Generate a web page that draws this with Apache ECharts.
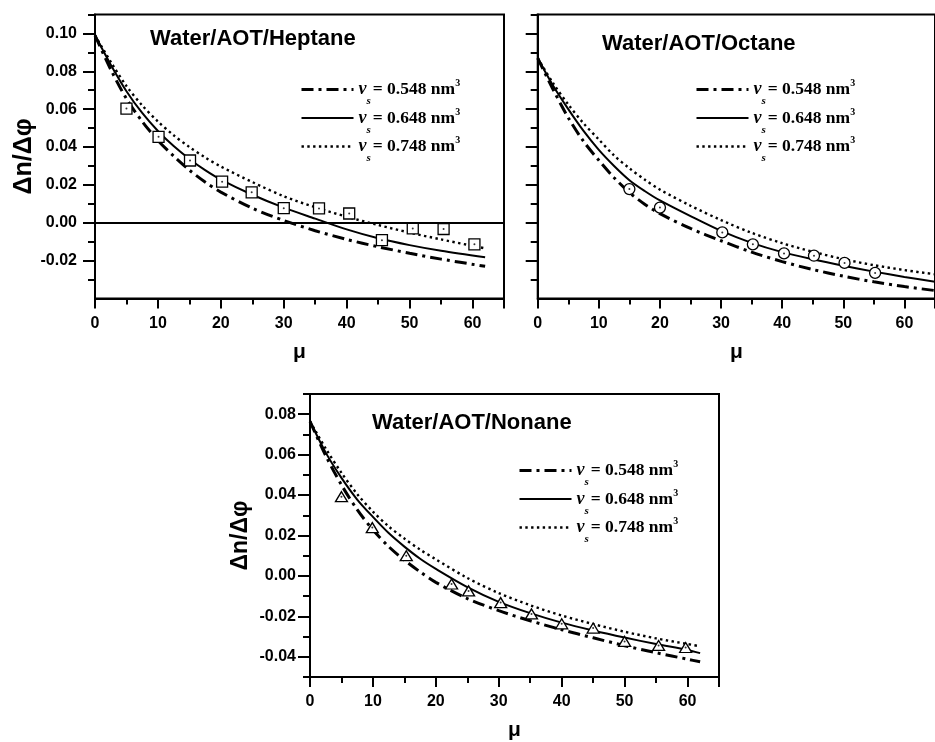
<!DOCTYPE html>
<html><head><meta charset="utf-8">
<script src="https://cdn.jsdelivr.net/npm/echarts@6/dist/echarts.min.js"></script>
<style>html,body{margin:0;padding:0;background:#fff}#c{width:935px;height:742px}</style>
</head><body><div id="c"></div>
<script>
// ---------- data ----------
const panelTitles = ['Water/AOT/Heptane', 'Water/AOT/Octane', 'Water/AOT/Nonane'];
const legendNames = ['vs0548', 'vs0648', 'vs0748'];
const legendValues = ['0.548', '0.648', '0.748'];
const xMajorTicks = [0, 10, 20, 30, 40, 50, 60];
const xMinorTicks = [5, 15, 25, 35, 45, 55];

// Heptane
const heptExpMu = [5, 10.1, 15.1, 20.2, 24.9, 30, 35.6, 40.4, 45.6, 50.5, 55.4, 60.3];
const heptExp = [0.0603, 0.0454, 0.0329, 0.0217, 0.0161, 0.0077, 0.0076, 0.0049, -0.0092, -0.0030, -0.0033, -0.0114];
const heptCurveMu = [0, 2.5, 5, 7.5, 10, 12.5, 15, 17.5, 20, 25, 30, 35, 40, 45, 50, 55, 62];
const hept548 = [0.099, 0.0810, 0.0655, 0.0535, 0.0435, 0.0352, 0.0278, 0.0215, 0.0162, 0.0077, 0.0012, -0.0042, -0.0088, -0.0127, -0.0161, -0.0192, -0.0230];
const hept648 = [0.099, 0.0835, 0.0695, 0.0580, 0.0485, 0.0405, 0.0337, 0.0278, 0.0228, 0.0148, 0.0080, 0.0022, -0.0035, -0.0082, -0.0118, -0.0148, -0.0182];
const hept748 = [0.099, 0.0850, 0.0722, 0.0620, 0.0535, 0.0462, 0.0400, 0.0345, 0.0297, 0.0215, 0.0140, 0.0082, 0.0032, -0.0012, -0.0052, -0.0088, -0.0135];

// Octane
const octExpMu = [15, 20, 30.2, 35.2, 40.3, 45.2, 50.2, 55.2];
const octExp = [0.0178, 0.0080, -0.0051, -0.0114, -0.0162, -0.0174, -0.0212, -0.0265];
const octCurveMu = [0, 2.5, 5, 7.5, 10, 12.5, 15, 17.5, 20, 25, 30, 35, 40, 45, 50, 55, 60, 65];
const oct548 = [0.087, 0.0705, 0.0555, 0.0430, 0.0330, 0.0238, 0.0160, 0.0098, 0.0048, -0.0030, -0.0095, -0.0155, -0.0205, -0.0247, -0.0282, -0.0312, -0.0337, -0.0358];
const oct648 = [0.087, 0.0725, 0.0600, 0.0485, 0.0385, 0.0300, 0.0225, 0.0168, 0.0118, 0.0035, -0.0043, -0.0106, -0.0155, -0.0193, -0.0227, -0.0258, -0.0286, -0.0311];
const oct748 = [0.087, 0.0738, 0.0625, 0.0525, 0.0440, 0.0355, 0.0288, 0.0228, 0.0175, 0.0090, 0.0014, -0.0053, -0.0108, -0.0153, -0.0192, -0.0224, -0.0250, -0.0272];

// Nonane
const nonExpMu = [5, 9.9, 15.3, 22.5, 25.2, 30.3, 35.2, 40, 45, 50, 55.4, 59.7];
const nonExp = [0.0392, 0.0239, 0.0100, -0.0040, -0.0074, -0.0132, -0.0188, -0.0237, -0.0258, -0.0324, -0.0344, -0.0354];
const nonCurveMu = [0, 2.5, 5, 7.5, 10, 12.5, 15, 17.5, 20, 25, 30, 35, 40, 45, 50, 55, 60, 62];
const non548 = [0.0765, 0.0595, 0.0450, 0.0328, 0.0228, 0.0145, 0.0078, 0.0020, -0.0032, -0.0112, -0.0172, -0.0222, -0.0266, -0.0306, -0.0345, -0.0380, -0.0412, -0.0425];
const non648 = [0.0765, 0.0610, 0.0485, 0.0378, 0.0292, 0.0212, 0.0145, 0.0085, 0.0035, -0.0055, -0.0128, -0.0184, -0.0231, -0.0270, -0.0305, -0.0337, -0.0366, -0.0382];
const non748 = [0.0765, 0.0630, 0.0510, 0.0405, 0.0318, 0.0245, 0.0185, 0.0130, 0.0082, -0.0010, -0.0085, -0.0145, -0.0196, -0.0238, -0.0276, -0.0309, -0.0337, -0.0348];

// y tick sets
const yLabelsTop = [-0.02, 0, 0.02, 0.04, 0.06, 0.08, 0.10];
const yMinorTop = [-0.03, -0.01, 0.01, 0.03, 0.05, 0.07, 0.09, 0.11];
const yLabelsBottom = [-0.04, -0.02, 0, 0.02, 0.04, 0.06, 0.08];
const yMinorBottom = [-0.05, -0.03, -0.01, 0.01, 0.03, 0.05, 0.07, 0.09];

// ---------- chart ----------
const pairs = (xs, ys) => xs.map((x, i) => [x, ys[i]]);
const BLACK = '#000';
const tickFont = { color: BLACK, fontFamily: 'Liberation Sans', fontWeight: 'bold', fontSize: 16 };
const nameFont = { color: BLACK, fontFamily: 'Liberation Sans', fontWeight: 'bold', fontSize: 21 };

const grids = [
  { left: 95, top: 14.5, width: 409, height: 284 },
  { left: 537.7, top: 14.5, width: 405.6, height: 284 },
  { left: 310, top: 394, width: 409, height: 283.7 }
].map(g => Object.assign(g, { show: true, borderColor: BLACK, borderWidth: 2, backgroundColor: 'transparent', containLabel: false }));

const xAxes = [], yAxes = [];
const yCfg = [
  { min: -0.04, max: 0.11, labels: yLabelsTop, minor: yMinorTop, showLabel: true, margin: 18, name: 'Δn/Δφ', gap: 56, fs: 25 },
  { min: -0.04, max: 0.11, labels: yLabelsTop, minor: yMinorTop, showLabel: false, margin: 18, name: '', gap: 56, fs: 25 },
  { min: -0.05, max: 0.09, labels: yLabelsBottom, minor: yMinorBottom, showLabel: true, margin: 14, name: 'Δn/Δφ', gap: 58, fs: 23 }
];
for (let g = 0; g < 3; g++) {
  xAxes.push({
    type: 'value', gridIndex: g, min: 0, max: 65, position: 'bottom',
    axisLine: { show: true, onZero: false, lineStyle: { color: BLACK, width: 2 } },
    axisTick: { show: true, length: 10, lineStyle: { color: BLACK, width: 2 }, customValues: xMajorTicks.concat([65]) },
    axisLabel: Object.assign({ show: true, customValues: xMajorTicks, margin: 17, formatter: v => String(v) }, tickFont),
    splitLine: { show: false },
    name: 'μ', nameLocation: 'middle', nameGap: 43, nameTextStyle: nameFont
  });
  xAxes.push({
    type: 'value', gridIndex: g, min: 0, max: 65, position: 'bottom',
    axisLine: { show: false, onZero: false },
    axisTick: { show: true, length: 6, lineStyle: { color: BLACK, width: 2 }, customValues: xMinorTicks },
    axisLabel: { show: false }, splitLine: { show: false }
  });
  const c = yCfg[g];
  yAxes.push({
    type: 'value', gridIndex: g, min: c.min, max: c.max, position: 'left',
    axisLine: { show: true, onZero: false, lineStyle: { color: BLACK, width: 2 } },
    axisTick: { show: true, length: 12, lineStyle: { color: BLACK, width: 2 }, customValues: c.labels },
    axisLabel: Object.assign({ show: c.showLabel, customValues: c.labels, margin: c.margin, formatter: v => v.toFixed(2) }, tickFont),
    splitLine: { show: false },
    name: c.name, nameLocation: 'middle', nameGap: c.gap, nameRotate: 90, nameTextStyle: Object.assign({}, nameFont, { fontSize: c.fs })
  });
  yAxes.push({
    type: 'value', gridIndex: g, min: c.min, max: c.max, position: 'left',
    axisLine: { show: false, onZero: false },
    axisTick: { show: true, length: 7, lineStyle: { color: BLACK, width: 2 }, customValues: c.minor },
    axisLabel: { show: false }, splitLine: { show: false }
  });
}

const lineStyles = [
  { color: BLACK, width: 3, type: [12, 5, 3, 5] },
  { color: BLACK, width: 2, type: 'solid' },
  { color: BLACK, width: 2.4, type: [2.4, 3.4] }
];
const panels = [
  { mu: heptCurveMu, curves: [hept548, hept648, hept748], exp: [heptExpMu, heptExp], symbol: 'rect', size: 11 },
  { mu: octCurveMu, curves: [oct548, oct648, oct748], exp: [octExpMu, octExp], symbol: 'circle', size: 11 },
  { mu: nonCurveMu, curves: [non548, non648, non748], exp: [nonExpMu, nonExp], symbol: 'triangle', size: [12, 10] }
];
const series = [];
panels.forEach((p, g) => {
  p.curves.forEach((cv, k) => {
    const s = {
      type: 'line', name: legendNames[k], xAxisIndex: 2 * g, yAxisIndex: 2 * g,
      data: pairs(p.mu, cv), showSymbol: false, symbol: 'none', smooth: 0.3,
      lineStyle: lineStyles[k], itemStyle: { color: BLACK }, z: 2, silent: true, clip: true
    };
    if (g === 0 && k === 1) {
      s.markLine = { silent: true, symbol: 'none', label: { show: false }, animation: false,
        lineStyle: { type: 'solid', color: BLACK, width: 2 }, data: [{ yAxis: 0 }] };
    }
    series.push(s);
  });
  series.push({
    type: 'scatter', xAxisIndex: 2 * g, yAxisIndex: 2 * g, data: pairs(p.exp[0], p.exp[1]),
    symbol: p.symbol, symbolSize: p.size, z: 3, silent: true,
    itemStyle: { color: '#fff', borderColor: BLACK, borderWidth: 1.3, opacity: 1 }
  });
  series.push({
    type: 'scatter', xAxisIndex: 2 * g, yAxisIndex: 2 * g, data: pairs(p.exp[0], p.exp[1]),
    symbol: 'circle', symbolSize: 2, z: 4, silent: true, itemStyle: { color: BLACK }
  });
});

const serif = 'Liberation Serif';
const rich = {
  v: { fontFamily: serif, fontStyle: 'italic', fontWeight: 'bold', fontSize: 18, lineHeight: 20, color: BLACK },
  s: { fontFamily: serif, fontStyle: 'italic', fontWeight: 'bold', fontSize: 11, lineHeight: 10, padding: [24, 2, 0, 0], color: BLACK },
  t: { fontFamily: serif, fontWeight: 'bold', fontSize: 17.5, lineHeight: 20, color: BLACK },
  p: { fontFamily: serif, fontWeight: 'bold', fontSize: 10, lineHeight: 10, padding: [0, 0, 12, 0], color: BLACK }
};
const legendPos = [[300, 72], [695, 72], [518, 453]];
const legends = legendPos.map(([l, t]) => ({
  left: l, top: t, orient: 'vertical', itemWidth: 52, itemHeight: 14, itemGap: -6.5,
  selectedMode: false, padding: 0, data: legendNames,
  itemStyle: { color: 'rgba(0,0,0,0)', borderWidth: 0, opacity: 0 },
  lineStyle: { width: 'inherit' },
  formatter: name => '{v|ν}{s|s}{t|= ' + legendValues[legendNames.indexOf(name)] + ' nm}{p|3}',
  textStyle: { rich: rich, color: BLACK }
}));

const titlePos = [[150, 28], [602, 33], [372, 412]];
const titles = titlePos.map(([l, t], i) => ({
  text: panelTitles[i], left: l, top: t, padding: 0,
  textStyle: { color: BLACK, fontFamily: 'Liberation Sans', fontWeight: 'bold', fontSize: 22, lineHeight: 22 }
}));

const chart = echarts.init(document.getElementById('c'), null, { renderer: 'canvas' });
chart.setOption({
  backgroundColor: '#fff', animation: false,
  title: titles, legend: legends, grid: grids, xAxis: xAxes, yAxis: yAxes, series: series
});
</script></body></html>
